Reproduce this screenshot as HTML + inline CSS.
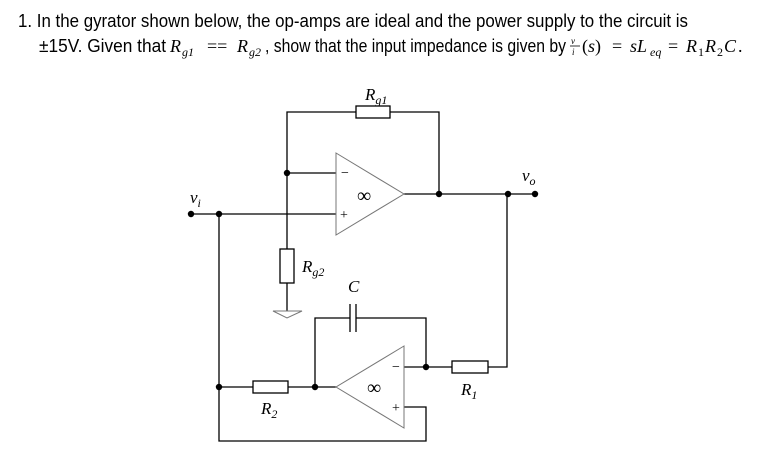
<!DOCTYPE html>
<html><head><style>body{margin:0;background:#fff}svg{display:block}</style></head><body>
<svg width="782" height="460" xmlns="http://www.w3.org/2000/svg" font-family="Liberation Sans, sans-serif">
<text x="18" y="27" font-size="18" textLength="670" lengthAdjust="spacingAndGlyphs">1. In the gyrator shown below, the op-amps are ideal and the power supply to the circuit is</text>
<g font-size="18">
<text x="39" y="52" textLength="127" lengthAdjust="spacingAndGlyphs">±15V. Given that</text>
<text x="170" y="52" font-family="Liberation Serif, serif" font-style="italic">R</text><text x="182" y="56" font-size="12" font-family="Liberation Serif, serif" font-style="italic">g1</text>
<text x="207" y="52" font-family="Liberation Serif, serif">==</text>
<text x="237" y="52" font-family="Liberation Serif, serif" font-style="italic">R</text><text x="249" y="56" font-size="12" font-family="Liberation Serif, serif" font-style="italic">g2</text>
<text x="265" y="52" textLength="301" lengthAdjust="spacingAndGlyphs">, show that the input impedance is given by</text>
<text x="571" y="44" font-size="9" font-family="Liberation Serif, serif" font-style="italic">v</text>
<line x1="570" y1="46" x2="580" y2="46" stroke="#000" stroke-width="0.8"/>
<text x="572" y="55" font-size="9" font-family="Liberation Serif, serif" font-style="italic">i</text>
<g font-family="Liberation Serif, serif">
<text x="582" y="52">(<tspan font-style="italic">s</tspan>)</text>
<text x="612" y="52">=</text>
<text x="630" y="52" font-style="italic">sL</text><text x="650" y="56" font-size="12" font-style="italic">eq</text>
<text x="668" y="52">=</text>
<text x="686" y="52" font-style="italic">R</text><text x="698" y="56" font-size="12">1</text>
<text x="705" y="52" font-style="italic">R</text><text x="717" y="56" font-size="12">2</text>
<text x="724" y="52" font-style="italic">C</text><text x="738" y="52">.</text>
</g>
</g>
<g stroke="#000" stroke-width="1.3" fill="none">
<polyline points="287,214 287,112 356,112"/><polyline points="390,112 439,112 439,194"/>
<rect x="356" y="106" width="34" height="12"/>
<line x1="287" y1="173" x2="336" y2="173"/>
<line x1="191" y1="214" x2="336" y2="214"/>
<line x1="287" y1="214" x2="287" y2="249"/>
<line x1="404" y1="194" x2="535" y2="194"/>
<rect x="280" y="249" width="14" height="34"/>
<line x1="287" y1="283" x2="287" y2="311"/>
<polyline points="219,214 219,441 426,441 426,407 404,407"/>
<line x1="219" y1="387" x2="253" y2="387"/><rect x="253" y="381" width="35" height="12"/>
<line x1="288" y1="387" x2="336" y2="387"/>
<polyline points="315,387 315,318 350,318"/><polyline points="356,318 426,318 426,367"/>
<line x1="350" y1="304" x2="350" y2="332"/><line x1="356" y1="304" x2="356" y2="332"/>
<line x1="404" y1="367" x2="452" y2="367"/><rect x="452" y="361" width="36" height="12"/>
<polyline points="488,367 507,367 507,194"/>
</g>
<g stroke="#777" stroke-width="1" fill="none">
<polygon points="336,153 404,194 336,235" fill="#fff"/>
<polygon points="404,346 336,387 404,428" fill="#fff"/>
<polygon points="273,311 302,311 287,318"/>
</g>
<g fill="#000">
<circle cx="287" cy="173" r="3.2"/><circle cx="191" cy="214" r="3.2"/><circle cx="219" cy="214" r="3.2"/>
<circle cx="439" cy="194" r="3.2"/><circle cx="508" cy="194" r="3.2"/><circle cx="535" cy="194" r="3.2"/>
<circle cx="219" cy="387" r="3.2"/><circle cx="315" cy="387" r="3.2"/><circle cx="426" cy="367" r="3.2"/>
</g>
<g font-family="Liberation Serif, serif" font-size="17">
<text x="341" y="177" font-size="14">−</text><text x="340" y="219" font-size="14">+</text><text x="357" y="202" font-size="20">∞</text>
<text x="392" y="371" font-size="14">−</text><text x="392" y="412" font-size="14">+</text><text x="367" y="394" font-size="20">∞</text>
<text x="365" y="100" font-style="italic">R<tspan font-size="12" dy="4">g1</tspan></text>
<text x="302" y="272" font-style="italic">R<tspan font-size="12" dy="4">g2</tspan></text>
<text x="348" y="292" font-style="italic">C</text>
<text x="461" y="395" font-style="italic">R<tspan font-size="12" dy="4">1</tspan></text>
<text x="261" y="414" font-style="italic">R<tspan font-size="12" dy="4">2</tspan></text>
<text x="190" y="203" font-style="italic">v<tspan font-size="12" dy="4">i</tspan></text>
<text x="522" y="181" font-style="italic">v<tspan font-size="12" dy="4">o</tspan></text>
</g>
</svg>
</body></html>
